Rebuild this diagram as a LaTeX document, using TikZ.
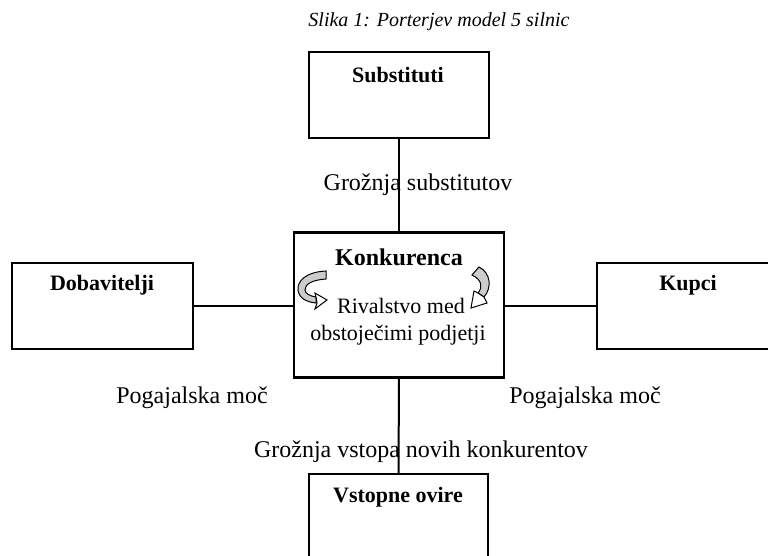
\documentclass[tikz,border=0pt]{standalone}
\usepackage{fontspec}
\setmainfont{Liberation Serif}
\begin{document}
\begin{tikzpicture}[x=0.5pt,y=-0.5pt,
  box/.style={draw=black,line width=1pt,rectangle,inner sep=0pt},
  boxlabel/.style={font=\fontsize{11}{13}\selectfont\bfseries,inner sep=0pt},
  txt/.style={font=\fontsize{12}{14}\selectfont,inner sep=0pt},
  conn/.style={line width=1pt},
  band/.style={draw=black,fill=gray!40,line width=0.5pt},
  head/.style={draw=black,fill=white,line width=0.5pt}]
\useasboundingbox (0,0) rectangle (768,556);
\clip (0,0) rectangle (768,556);
\fill[white] (0,0) rectangle (768,556);
% title
\node[font=\fontsize{10}{12}\selectfont\itshape,inner sep=0pt] (title) at (439,22) {Slika 1: Porterjev model 5 silnic};
% boxes
\node[box,minimum width=90pt,minimum height=43pt] (sub) at (399,95) {};
\node[box,line width=1.2pt,minimum width=105pt,minimum height=72.5pt] (kon) at (399,305) {};
\node[box,minimum width=90.5pt,minimum height=43pt] (dob) at (102.5,306) {};
\node[box,minimum width=96.5pt,minimum height=43pt] (kup) at (693.5,306) {};
\node[box,minimum width=89.5pt,minimum height=48pt] (vst) at (398.5,522) {};
% labels
\node[boxlabel] (subl) at (398,75) {Substituti};
\node[boxlabel] (dobl) at (102,285) {Dobavitelji};
\node[boxlabel] (kupl) at (688,285) {Kupci};
\node[boxlabel] (vstl) at (398,497) {Vstopne ovire};
\node[font=\fontsize{12}{14}\selectfont\bfseries,inner sep=0pt] (konl) at (399,257) {Konkurenca};
\node[font=\fontsize{11}{13}\selectfont,inner sep=0pt] (riv1) at (401,306) {Rivalstvo med};
\node[font=\fontsize{11}{13}\selectfont,inner sep=0pt] (riv2) at (398,335) {obstoječimi podjetji};
% connectors
\draw[conn] (sub.south) -- (kon.north);
\draw[conn] (kon.south) -- (vst.north);
\draw[conn] (dob.east) -- (dob.east -| kon.west);
\draw[conn] (kup.west) -- (kup.west -| kon.east);
% connector labels
\node[txt] (gs) at (418,185) {Grožnja substitutov};
\node[txt] (gv) at (421,452) {Grožnja vstopa novih konkurentov};
\node[txt] (pl) at (192,398) {Pogajalska moč};
\node[txt] (pr) at (585,398) {Pogajalska moč};
% left curved arrow
\draw[band] (326,271) .. controls (306,272) and (297,281) .. (298,290)
  .. controls (299,298) and (306,302) .. (316,303) -- (316,297)
  .. controls (309,296) and (305,293) .. (305,290)
  .. controls (305,284) and (312,280) .. (326,279) -- cycle;
\draw[head] (315,293) -- (327,300) -- (315,309) -- (317,303) -- (316,297) -- cycle;
% right curved arrow
\draw[band] (479,267) .. controls (491,273) and (492,288) .. (484,297)
  -- (478,293)
  .. controls (483,287) and (482,280) .. (472,275) -- cycle;
\draw[head] (487,303) -- (471,308) -- (474,291) -- (478,293) -- (484,297) -- cycle;
\end{tikzpicture}
\end{document}
